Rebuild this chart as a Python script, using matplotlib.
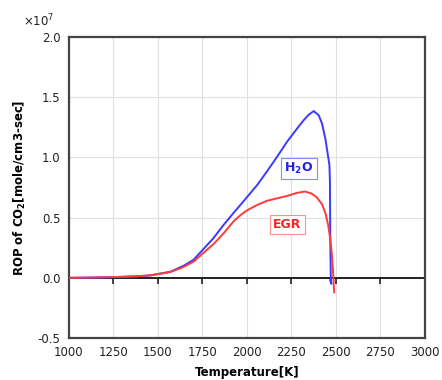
import matplotlib
matplotlib.use('Agg')
from matplotlib import pyplot

# ROP of CO2 vs temperature, values in units of 1e7 mole/cm3-sec
temp_h2o = [1000, 1125, 1250, 1375, 1456, 1569, 1644, 1700, 1750, 1812, 1869, 1925,
            1963, 2000, 2057, 2113, 2169, 2225, 2279, 2319, 2347, 2375, 2403,
            2422, 2441, 2454, 2463, 2466, 2468, 2471, 2474, 2467]
rop_h2o = [0.0, 0.002, 0.006, 0.012, 0.02, 0.05, 0.10, 0.15, 0.23, 0.33, 0.44, 0.54,
           0.605, 0.67, 0.77, 0.885, 1.005, 1.13, 1.235, 1.31, 1.355, 1.385, 1.35,
           1.28, 1.15, 1.025, 0.94, 0.81, 0.31, 0.0, -0.05, -0.02]

temp_egr = [1000, 1125, 1250, 1375, 1456, 1569, 1644, 1700, 1750, 1812, 1869, 1925,
            1963, 2000, 2057, 2113, 2169, 2225, 2279, 2326, 2363, 2391, 2422,
            2441, 2456, 2469, 2477, 2484, 2490]
rop_egr = [0.0, 0.002, 0.006, 0.012, 0.02, 0.048, 0.09, 0.135, 0.20, 0.28, 0.37, 0.47,
           0.52, 0.56, 0.605, 0.64, 0.66, 0.68, 0.705, 0.717, 0.70, 0.67, 0.61,
           0.535, 0.44, 0.31, 0.19, 0.04, -0.12]

x_ticks = [1000, 1250, 1500, 1750, 2000, 2250, 2500, 2750, 3000]
y_ticks = [-0.5, 0.0, 0.5, 1.0, 1.5, 2.0]

pyplot.rcParams['font.family'] = 'DejaVu Sans'
pyplot.rcParams['axes.unicode_minus'] = False

fig = pyplot.figure(figsize=(4.42, 3.80), dpi=100)
ax = fig.add_axes([0.156, 0.1105, 0.8055, 0.792])

ax.set_xlim(1000, 3000)
ax.set_ylim(-0.5, 2.0)
ax.set_xticks(x_ticks)
ax.set_yticks(y_ticks)
ax.set_yticklabels([f"{v:.1f}" for v in y_ticks])
ax.tick_params(length=0, labelsize=8.5, labelcolor='#222222', pad=6)
ax.grid(True, color='#e0e0e0', lw=0.8)
ax.set_axisbelow(True)
for s in ax.spines.values():
    s.set_color('#444444')
    s.set_linewidth(1.6)

# zero line with its own tick marks
ax.axhline(0, color='#222222', lw=1.4, zorder=2)
ax.plot(x_ticks[1:-1], [0] * (len(x_ticks) - 2), ls='none', marker=3,
        markersize=4, color='#222222', mew=1.2, zorder=2)

ax.plot(temp_h2o, rop_h2o, color='#3a3aff', lw=1.4, zorder=3, solid_joinstyle='round')
ax.plot(temp_egr, rop_egr, color='#ff3a3a', lw=1.4, zorder=3, solid_joinstyle='round')

ax.text(2292, 0.91, 'H$_\\mathbf{2}$O', color='#2020e0', fontsize=9, fontweight='bold',
        ha='center', va='center',
        bbox=dict(boxstyle='square,pad=0.25', fc='white', ec='#8888ff', lw=0.8))
ax.text(2228, 0.445, 'EGR', color='#ff2020', fontsize=9, fontweight='bold',
        ha='center', va='center',
        bbox=dict(boxstyle='square,pad=0.25', fc='white', ec='#ff9090', lw=0.8))

ax.text(-0.13, 1.025, '×10$^7$', transform=ax.transAxes, fontsize=8.5,
        color='#222222', ha='left', va='bottom')

ax.set_xlabel('Temperature[K]', fontsize=8.5, fontweight='bold', labelpad=5)
ax.set_ylabel('ROP of CO$_\\mathbf{2}$[mole/cm3-sec]', fontsize=8.5,
              fontweight='bold', labelpad=7)

pyplot.savefig('out.png', dpi=100)
pyplot.close()
